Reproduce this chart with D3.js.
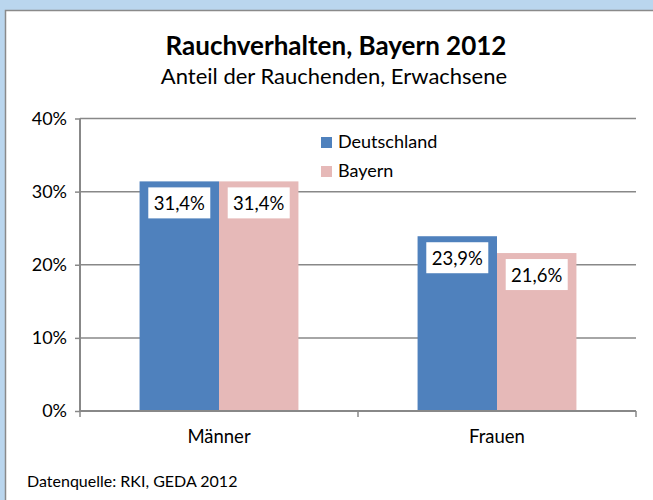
<!DOCTYPE html>
<html>
<head>
<meta charset="utf-8">
<script src="https://cdn.jsdelivr.net/npm/d3@7"></script>
<style>
  html, body { margin: 0; padding: 0; background: #bad6ee; }
  svg { display: block; font-family: Lato, "Open Sans", sans-serif; }
</style>
</head>
<body>
<svg id="chart"></svg>
<script>
var width = 653;
var height = 500;

// data
var categories = ["Männer", "Frauen"];
var seriesNames = ["Deutschland", "Bayern"];
var deutschland = [31.4, 23.9];
var bayern = [31.4, 21.6];
var yTicks = [0, 10, 20, 30, 40];
var colors = ["#4f81bd", "#e6b9b8"];

var de = d3.formatLocale({decimal: ",", thousands: ".", grouping: [3], currency: ["", "€"]});
var fmtLabel = function(v) { return de.format(".1f")(v) + "%"; };
var fmtTick = function(v) { return de.format("d")(v) + "%"; };

var svg = d3.select('#chart')
    .attr('width', width)
    .attr('height', height);

// chart frame
svg.append('rect')
    .attr('x', 5.5).attr('y', 10.5)
    .attr('width', width).attr('height', height)
    .style('fill', '#fff')
    .style('stroke', '#8a8a8a')
    .style('stroke-width', 1.5);

var plotLeft = 80, plotRight = 636, plotTop = 118.5, plotBottom = 411;

var x = d3.scaleBand()
    .domain(categories)
    .range([plotLeft, plotRight])
    .padding(0);

var xs = d3.scaleBand()
    .domain(seriesNames)
    .range([0, x.bandwidth()])
    .paddingInner(0)
    .paddingOuter(0.75);

var y = d3.scaleLinear()
    .domain([0, 40])
    .range([plotBottom, plotTop]);

// titles
svg.append('text')
    .attr('x', 336).attr('y', 55)
    .attr('text-anchor', 'middle')
    .style('font-weight', 'bold')
    .style('font-size', '26px')
    .style('fill', '#000')
    .text('Rauchverhalten, Bayern 2012');

svg.append('text')
    .attr('x', 334).attr('y', 84)
    .attr('text-anchor', 'middle')
    .style('font-size', '22px')
    .style('fill', '#000')
    .text('Anteil der Rauchenden, Erwachsene');

// gridlines
svg.append('g')
    .selectAll('line')
    .data(yTicks.slice(1))
    .enter()
    .append('line')
    .attr('x1', plotLeft).attr('x2', plotRight)
    .attr('y1', function(d) { return y(d); })
    .attr('y2', function(d) { return y(d); })
    .style('stroke', '#888')
    .style('stroke-width', 1.5);

// y axis
var yAxis = svg.append('g')
    .attr('transform', 'translate(' + plotLeft + ',0)')
    .call(d3.axisLeft(y).tickValues(yTicks).tickFormat(fmtTick).tickSize(5).tickPadding(8));
yAxis.select('.domain').style('stroke', '#888').style('stroke-width', 2)
    .attr('d', 'M0,' + plotTop + 'V' + plotBottom);
yAxis.selectAll('.tick line').style('stroke', '#888').style('stroke-width', 1.5);
yAxis.selectAll('.tick text')
    .style('font-family', 'Lato, sans-serif')
    .style('font-size', '18px')
    .style('fill', '#000');

// bars
var rows = categories.map(function(c, i) {
    return [{cat: c, s: seriesNames[0], v: deutschland[i], col: colors[0]},
            {cat: c, s: seriesNames[1], v: bayern[i], col: colors[1]}];
});
var flat = [].concat.apply([], rows);

svg.append('g')
    .selectAll('rect')
    .data(flat)
    .enter()
    .append('rect')
    .attr('x', function(d) { return x(d.cat) + xs(d.s); })
    .attr('y', function(d) { return y(d.v); })
    .attr('width', xs.bandwidth())
    .attr('height', function(d) { return y(0) - y(d.v); })
    .style('fill', function(d) { return d.col; });

// x axis
svg.append('line')
    .attr('x1', plotLeft).attr('x2', plotRight)
    .attr('y1', plotBottom).attr('y2', plotBottom)
    .style('stroke', '#888')
    .style('stroke-width', 2);
svg.append('g')
    .selectAll('line')
    .data([plotLeft, plotLeft + x.bandwidth(), plotRight])
    .enter()
    .append('line')
    .attr('x1', function(d) { return d; }).attr('x2', function(d) { return d; })
    .attr('y1', plotBottom).attr('y2', plotBottom + 6)
    .style('stroke', '#888')
    .style('stroke-width', 1.5);

svg.append('g')
    .selectAll('text')
    .data(categories)
    .enter()
    .append('text')
    .attr('x', function(d) { return x(d) + x.bandwidth() / 2; })
    .attr('y', 443)
    .attr('text-anchor', 'middle')
    .style('font-size', '18.5px')
    .text(function(d) { return d; });

// data labels in white boxes
var lab = svg.append('g')
    .selectAll('g')
    .data(flat)
    .enter()
    .append('g')
    .attr('transform', function(d) {
        return 'translate(' + (x(d.cat) + xs(d.s) + xs.bandwidth() / 2) + ',' + (y(d.v) + 6) + ')';
    });
lab.append('rect')
    .attr('x', -31).attr('y', 0)
    .attr('width', 62).attr('height', 31)
    .style('fill', '#fff');
lab.append('text')
    .attr('x', 0).attr('y', 23)
    .attr('text-anchor', 'middle')
    .style('font-size', '18.5px')
    .text(function(d) { return fmtLabel(d.v); });

// legend
var leg = svg.append('g')
    .selectAll('g')
    .data(seriesNames)
    .enter()
    .append('g')
    .attr('transform', function(d, i) { return 'translate(321,' + (137 + i * 29) + ')'; });
leg.append('rect')
    .attr('width', 11).attr('height', 11)
    .style('fill', function(d, i) { return colors[i]; });
leg.append('text')
    .attr('x', 17).attr('y', 10.5)
    .style('font-size', '18px')
    .text(function(d) { return d; });

// source note
svg.append('text')
    .attr('x', 27).attr('y', 487)
    .style('font-size', '16px')
    .text('Datenquelle: RKI, GEDA 2012');
</script>
</body>
</html>
